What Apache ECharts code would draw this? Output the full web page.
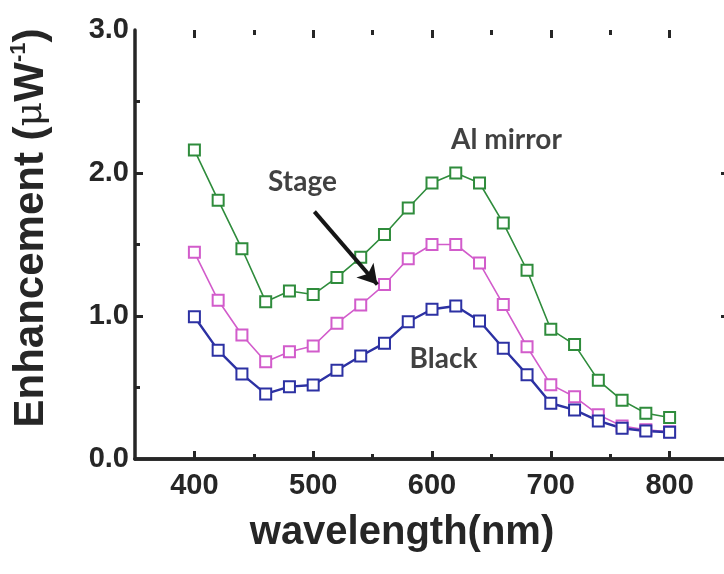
<!DOCTYPE html>
<html>
<head>
<meta charset="utf-8">
<script src="https://cdn.jsdelivr.net/npm/echarts@6/dist/echarts.min.js"></script>
<style>
  html, body { margin: 0; padding: 0; background: #fff; }
  #chart { width: 724px; height: 574px; }
</style>
</head>
<body>
<div id="chart"></div>
<script>
// Wavelength sampling (nm)
const wavelengths = [400, 420, 440, 460, 480, 500, 520, 540, 560, 580, 600,
                     620, 640, 660, 680, 700, 720, 740, 760, 780, 800];

// Enhancement (per microwatt) for each substrate
const alMirror = [2.16, 1.81, 1.47, 1.10, 1.175, 1.15, 1.27, 1.41, 1.57, 1.755, 1.93,
                  2.00, 1.93, 1.65, 1.32, 0.907, 0.80, 0.55, 0.41, 0.32, 0.29];
const stage    = [1.445, 1.11, 0.867, 0.68, 0.75, 0.79, 0.95, 1.077, 1.22, 1.40, 1.50,
                  1.50, 1.37, 1.08, 0.785, 0.52, 0.435, 0.31, 0.23, 0.205, 0.19];
const black    = [0.995, 0.76, 0.594, 0.455, 0.506, 0.517, 0.62, 0.72, 0.81, 0.96, 1.047,
                  1.07, 0.965, 0.774, 0.59, 0.39, 0.343, 0.266, 0.215, 0.196, 0.187];

// Axis ticks
const xMajorTicks = [400, 500, 600, 700, 800];
const xMinorTicks = [450, 550, 650, 750];
const yMajorTicks = [1, 2];
const yMinorTicks = [0.5, 1.5, 2.5];

// Curve names and where they are written on the plot
const curveNotes = [
  { name: 'Al mirror', value: [662.7, 2.231] },
  { name: 'Stage',     value: [491, 1.937] },
  { name: 'Black',     value: [609.7, 0.70] }
];
// Arrow from the "Stage" note to its curve
const stageArrow = [[501, 1.73], [554, 1.22]];

const X_MIN = 350, X_MAX = 850, Y_MIN = 0, Y_MAX = 3;
const GRID = { left: 135, top: 30, right: -5, bottom: 115 };
const PLOT_W = 724 - GRID.left - GRID.right;
const PLOT_H = 574 - GRID.top - GRID.bottom;

const INK = '#262626';
const TICK_FONT = { fontFamily: 'Liberation Sans', fontWeight: 'bold', fontSize: 29, color: INK };

function pairs(ys) { return wavelengths.map((x, i) => [x, ys[i]]); }

// inward frame ticks on all four sides, lengths given in pixels
function frameTicks(majorLen, minorLen) {
  const dx = px => px * (X_MAX - X_MIN) / PLOT_W;
  const dy = px => px * (Y_MAX - Y_MIN) / PLOT_H;
  const segs = [];
  const add = (a, b) => segs.push([{ coord: a }, { coord: b }]);
  [[xMajorTicks, majorLen], [xMinorTicks, minorLen]].forEach(([ticks, len]) => ticks.forEach(v => {
    add([v, Y_MIN], [v, Y_MIN + dy(len)]);
    add([v, Y_MAX], [v, Y_MAX - dy(len)]);
  }));
  [[yMajorTicks, majorLen], [yMinorTicks, minorLen]].forEach(([ticks, len]) => ticks.forEach(v => {
    add([X_MIN, v], [X_MIN + dx(len), v]);
    add([X_MAX, v], [X_MAX - dx(len), v]);
  }));
  return segs;
}

function xAxisDef(pos, opts) {
  return Object.assign({
    type: 'value', position: pos, min: X_MIN, max: X_MAX,
    axisLine: { show: true, lineStyle: { color: INK, width: 3.5 } },
    axisTick: { show: false },
    axisLabel: { show: false },
    splitLine: { show: false }
  }, opts || {});
}

function yAxisDef(pos, opts) {
  return Object.assign({
    type: 'value', position: pos, min: Y_MIN, max: Y_MAX, interval: 1,
    axisLine: { show: true, lineStyle: { color: INK, width: 3.5 } },
    axisTick: { show: false },
    axisLabel: { show: false },
    splitLine: { show: false }
  }, opts || {});
}

function curve(name, ys, color, width) {
  return {
    name: name, type: 'line', data: pairs(ys),
    symbol: 'emptyRect', symbolSize: 11,
    lineStyle: { color: color, width: width },
    itemStyle: { color: color, borderColor: color, borderWidth: 2.5 },
    z: 3, animation: false, silent: true
  };
}

const chart = echarts.init(document.getElementById('chart'));

const stageSeries = curve('Stage', stage, '#d25ccb', 1.6);
stageSeries.markLine = {
  silent: true, animation: false,
  symbol: ['none', 'arrow'], symbolSize: [17, 19],
  label: { show: false },
  lineStyle: { color: '#161616', width: 4, type: 'solid' },
  data: [[{ coord: stageArrow[0] }, { coord: stageArrow[1] }]]
};

const blackSeries = curve('Black', black, '#2c31a3', 2.4);
blackSeries.markLine = {
  silent: true, animation: false, symbol: 'none',
  label: { show: false },
  emphasis: { disabled: true },
  lineStyle: { color: INK, width: 3, type: 'solid' },
  data: frameTicks(8, 5)
};

const TITLE_FONT = { fontFamily: 'Liberation Sans', fontWeight: 'bold', fontSize: 42, fill: INK };

chart.setOption({
  backgroundColor: '#ffffff',
  animation: false,
  // the right-hand frame sits just past the canvas edge
  grid: Object.assign({ outerBoundsMode: 'none' }, GRID),
  xAxis: [
    xAxisDef('bottom', {
      axisLabel: Object.assign({ show: true, margin: 12, customValues: xMajorTicks }, TICK_FONT)
    }),
    xAxisDef('top')
  ],
  yAxis: [
    yAxisDef('left', {
      axisLabel: Object.assign({ show: true, margin: 6, formatter: v => v.toFixed(1) }, TICK_FONT)
    }),
    yAxisDef('right')
  ],
  // axis titles
  graphic: [
    {
      type: 'text', x: 402, y: 533, silent: true,
      style: Object.assign({ text: 'wavelength(nm)', align: 'center', verticalAlign: 'middle' },
                           TITLE_FONT, { fontSize: 40 })
    },
    {
      type: 'text', x: 31, y: 228, rotation: Math.PI / 2, silent: true,
      style: {
        text: '{a|Enhancement (}{mu|μ}{a|W}{sup|-1}{a|)}',
        align: 'center', verticalAlign: 'middle',
        rich: {
          a:   Object.assign({ lineHeight: 46 }, TITLE_FONT),
          mu:  { fontFamily: 'DejaVu Serif', fontSize: 38, fill: INK, lineHeight: 46 },
          sup: { fontFamily: 'Liberation Sans', fontWeight: 'bold', fontSize: 22, fill: INK,
                 lineHeight: 46, verticalAlign: 'top' }
        }
      }
    }
  ],
  series: [
    curve('Al mirror', alMirror, '#2f8c3c', 1.6),
    stageSeries,
    blackSeries,
    {
      type: 'scatter', data: curveNotes, symbolSize: 0, silent: true, z: 5,
      label: {
        show: true, position: 'inside', formatter: '{b}',
        fontFamily: 'Lato', fontWeight: 'bold', fontSize: 28, color: '#111111'
      }
    }
  ]
});
</script>
</body>
</html>
